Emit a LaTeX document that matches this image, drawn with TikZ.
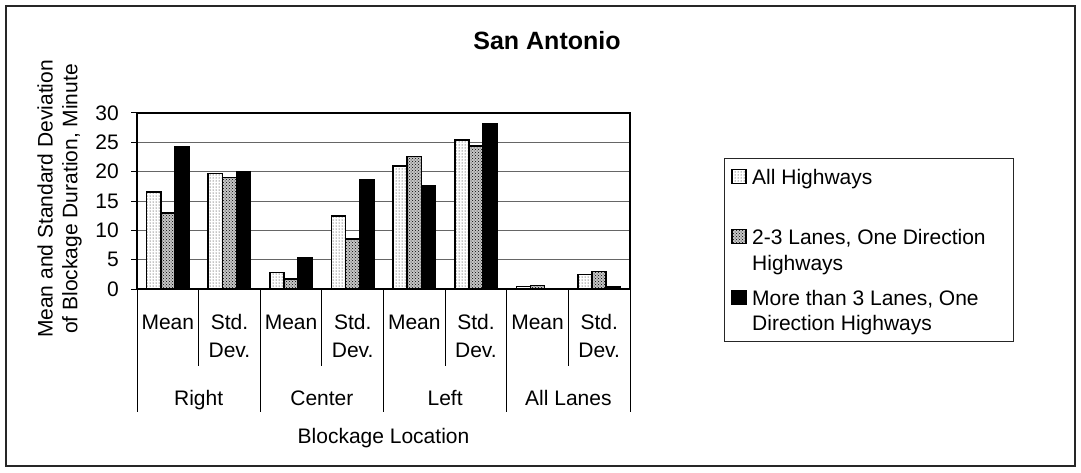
\documentclass[tikz,border=0pt]{standalone}
\usepackage{fontspec}
\setmainfont{Liberation Sans}
\usetikzlibrary{patterns}
\begin{document}
\begin{tikzpicture}[x=1pt,y=-1pt,
  lbl/.style={font=\fontsize{21}{26}\selectfont, inner sep=0pt},
  ttl/.style={font=\fontsize{25}{30}\selectfont\bfseries, inner sep=0pt},
  gridline/.style={black!60, line width=0.9pt},
  divline/.style={black, line width=1pt},
  barA/.style={preaction={fill=white}, pattern=dots, draw=black, line width=1.6pt},
  barB/.style={preaction={fill=gray!45}, pattern=crosshatch dots, draw=black, line width=1.6pt},
  barC/.style={fill=black, draw=black, line width=1.6pt}
]
\useasboundingbox (0,0) rectangle (1081,472);
\draw[line width=1.2pt, black!85] (6,6) rectangle (1075,466);

% title
\node[ttl, anchor=base] (title) at (547,49) {San Antonio};

% axis title
\node[lbl, rotate=90] (ylab1) at (45,199) {Mean and Standard Deviation};
\node[lbl, rotate=90] (ylab2) at (72,199) {of Blockage Duration, Minute};

% gridlines
\foreach \v in {5,10,15,20,25} {
  \draw[gridline] (137,{289-5.867*\v}) -- (630,{289-5.867*\v});
}

% bars
\foreach \i/\a/\b/\c in {0/16.5/13.0/24.2, 1/19.7/19.0/20.0, 2/2.8/1.7/5.4, 3/12.4/8.5/18.6,
                         4/21.0/22.6/17.6, 5/25.4/24.4/28.1, 6/0.4/0.6/0.1, 7/2.5/3.0/0.3} {
  \pgfmathsetmacro{\xs}{137+61.625*\i+9.65}
  \draw[barA] (\xs,289) rectangle ({\xs+14.1},{289-5.867*\a});
  \draw[barB] ({\xs+14.1},289) rectangle ({\xs+28.2},{289-5.867*\b});
  \draw[barC] ({\xs+28.2},289) rectangle ({\xs+42.3},{289-5.867*\c});
}

% plot frame
\draw[line width=2pt] (137,113) rectangle (630,289);

% y ticks and labels
\foreach \v in {0,5,10,15,20,25,30} {
  \draw[line width=1pt] (131,{289-5.867*\v}) -- (137,{289-5.867*\v});
  \node[lbl, anchor=east] (yt\v) at (119,{289-5.867*\v}) {\v};
}

% category dividers
\foreach \i in {0,2,4,6,8} {
  \draw[divline] ({137+61.625*\i},289) -- ({137+61.625*\i},412);
}
\foreach \i in {1,3,5,7} {
  \draw[divline] ({137+61.625*\i},289) -- ({137+61.625*\i},366);
}

% category labels
\foreach \g in {0,1,2,3} {
  \pgfmathsetmacro{\cm}{137+61.625*(2*\g)+30.8}
  \pgfmathsetmacro{\cs}{137+61.625*(2*\g+1)+30.8}
  \node[lbl, anchor=base] (mean\g) at (\cm,329.5) {Mean};
  \node[lbl, anchor=base] (std\g) at (\cs,329.5) {Std.};
  \node[lbl, anchor=base] (dev\g) at (\cs,357.5) {Dev.};
}
\node[lbl, anchor=base] (gR) at ({137+61.625*1},405.5) {Right};
\node[lbl, anchor=base] (gC) at ({137+61.625*3},405.5) {Center};
\node[lbl, anchor=base] (gL) at ({137+61.625*5},405.5) {Left};
\node[lbl, anchor=base] (gA) at ({137+61.625*7},405.5) {All Lanes};
\node[lbl, anchor=base] (xlab) at (383.5,443.5) {Blockage Location};

% legend
\draw[line width=1pt, black!85] (724,158) rectangle (1013,341);
\draw[barA] (732,169.5) rectangle (746,183.5);
\node[lbl, anchor=base west] (l1) at (752,184.5) {All Highways};
\draw[barB] (732,229.5) rectangle (746,243.5);
\node[lbl, anchor=base west] (l2a) at (752,244.5) {2-3 Lanes, One Direction};
\node[lbl, anchor=base west] (l2b) at (752,270.5) {Highways};
\draw[barC] (732,290.5) rectangle (746,304.5);
\node[lbl, anchor=base west] (l3a) at (752,305.5) {More than 3 Lanes, One};
\node[lbl, anchor=base west] (l3b) at (752,330.5) {Direction Highways};
\end{tikzpicture}
\end{document}
